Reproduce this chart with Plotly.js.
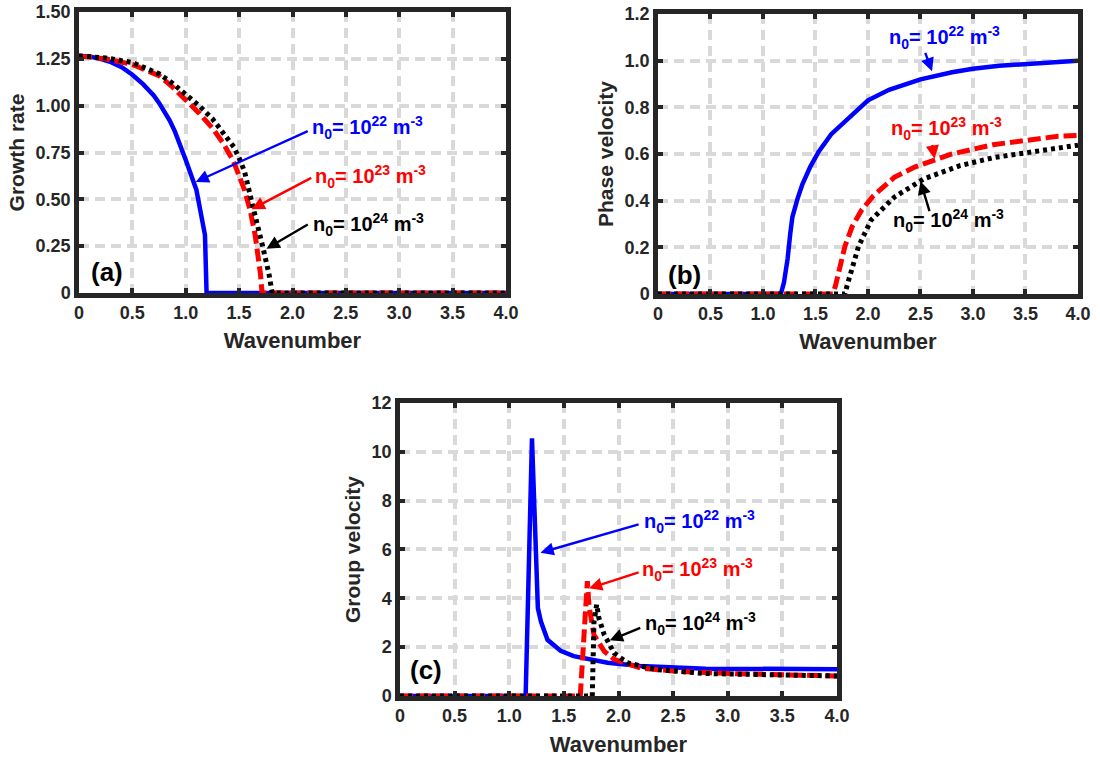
<!DOCTYPE html>
<html>
<head>
<meta charset="utf-8">
<script src="https://cdn.plot.ly/plotly-3.0.1.min.js"></script>
<style>html,body{margin:0;padding:0;background:#fff;}#chart{width:1100px;height:762px;}</style>
</head>
<body>
<div id="chart"></div>
<script>
// ---- Panel (a): growth rate ----
const kGrowth22 = [0, 0.1, 0.2, 0.3, 0.4, 0.5, 0.6, 0.65, 0.7, 0.75, 0.8, 0.85, 0.9, 0.95, 1.0, 1.05, 1.1, 1.15, 1.18, 1.195, 4.0];
const growth22  = [1.265, 1.262, 1.25, 1.232, 1.205, 1.165, 1.115, 1.085, 1.055, 1.015, 0.97, 0.92, 0.86, 0.79, 0.71, 0.63, 0.55, 0.40, 0.31, 0, 0];
const kGrowth23 = [0, 0.25, 0.5, 0.75, 0.875, 1.0, 1.125, 1.25, 1.35, 1.45, 1.5, 1.55, 1.6, 1.65, 1.7, 1.715, 4.0];
const growth23  = [1.265, 1.25, 1.22, 1.16, 1.10, 1.03, 0.96, 0.88, 0.80, 0.70, 0.625, 0.55, 0.45, 0.31, 0.10, 0, 0];
const kGrowth24 = [0, 0.25, 0.5, 0.75, 0.875, 1.0, 1.125, 1.25, 1.35, 1.45, 1.5, 1.55, 1.63, 1.675, 1.72, 1.78, 1.81, 4.0];
const growth24  = [1.265, 1.255, 1.23, 1.17, 1.12, 1.06, 1.00, 0.93, 0.86, 0.78, 0.72, 0.65, 0.46, 0.36, 0.25, 0.10, 0, 0];

// ---- Panel (b): phase velocity ----
const kPhase22 = [0, 1.17, 1.2, 1.234, 1.26, 1.28, 1.33, 1.375, 1.45, 1.53, 1.65, 1.78, 2.0, 2.2, 2.5, 2.8, 3.0, 3.25, 3.5, 3.75, 4.0];
const phase22  = [0, 0, 0.05, 0.15, 0.26, 0.33, 0.41, 0.47, 0.545, 0.61, 0.685, 0.74, 0.83, 0.875, 0.92, 0.95, 0.965, 0.978, 0.986, 0.993, 1.0];
const kPhase23 = [0, 1.665, 1.69, 1.73, 1.78, 1.85, 1.94, 2.05, 2.25, 2.45, 2.625, 2.8, 3.19, 3.5, 3.81, 4.0];
const phase23  = [0, 0, 0.035, 0.12, 0.204, 0.29, 0.36, 0.42, 0.50, 0.545, 0.57, 0.60, 0.64, 0.66, 0.676, 0.68];
const kPhase24 = [0, 1.78, 1.80, 1.85, 1.91, 2.03, 2.25, 2.53, 2.875, 3.2, 3.5, 3.81, 4.0];
const phase24  = [0, 0, 0.035, 0.12, 0.204, 0.317, 0.415, 0.493, 0.55, 0.585, 0.606, 0.627, 0.638];

// ---- Panel (c): group velocity ----
const kGroup22 = [0, 1.15, 1.208, 1.262, 1.29, 1.35, 1.47, 1.59, 1.9, 2.2, 2.8, 4.0];
const group22  = [0, 0, 10.55, 3.6, 3.05, 2.3, 1.85, 1.63, 1.36, 1.23, 1.12, 1.1];
const kGroup23 = [0, 1.65, 1.715, 1.73, 1.775, 1.87, 1.96, 2.2, 2.5, 3.1, 4.0];
const group23  = [0, 0, 4.7, 3.7, 2.5, 1.83, 1.5, 1.15, 1.02, 0.91, 0.82];
const kGroup24 = [0, 1.76, 1.775, 1.80, 1.82, 1.87, 1.96, 2.08, 2.35, 2.8, 4.0];
const group24  = [0, 0, 3.0, 3.75, 3.2, 2.5, 1.76, 1.36, 1.08, 0.92, 0.82];

// ---- Tick labels ----
const xTickVals = [0, 0.5, 1.0, 1.5, 2.0, 2.5, 3.0, 3.5, 4.0];
const xTickText = ['0', '0.5', '1.0', '1.5', '2.0', '2.5', '3.0', '3.5', '4.0'];
const yTickValsA = [0, 0.25, 0.5, 0.75, 1.0, 1.25, 1.5];
const yTickTextA = ['0', '0.25', '0.50', '0.75', '1.00', '1.25', '1.50'];
const yTickValsB = [0, 0.2, 0.4, 0.6, 0.8, 1.0, 1.2];
const yTickTextB = ['0', '0.2', '0.4', '0.6', '0.8', '1.0', '1.2'];
const yTickValsC = [0, 2, 4, 6, 8, 10, 12];
const yTickTextC = ['0', '2', '4', '6', '8', '10', '12'];

const labels = {
  n22: 'n<sub>0</sub>= 10<sup>22</sup> m<sup>-3</sup>',
  n23: 'n<sub>0</sub>= 10<sup>23</sup> m<sup>-3</sup>',
  n24: 'n<sub>0</sub>= 10<sup>24</sup> m<sup>-3</sup>'
};

const FONT = 'Liberation Sans, Arial, Helvetica, sans-serif';
const DARK = '#262626';
const BLUE = '#0000ff', RED = '#ff0000', BLACK = '#000000';

const styleBlue  = {color: BLUE, width: 4.5, dash: 'solid'};
const styleRed   = {color: RED, width: 5, dash: '13px,5px'};
const styleBlack = {color: BLACK, width: 5, dash: '4px,4px'};

function tr(x, y, line, xa, ya) {
  return {x: x, y: y, type: 'scatter', mode: 'lines', line: line, xaxis: xa, yaxis: ya, hoverinfo: 'skip'};
}

const data = [
  tr(kGrowth22, growth22, styleBlue, 'x', 'y'),
  tr(kGrowth23, growth23, styleRed, 'x', 'y'),
  tr(kGrowth24, growth24, styleBlack, 'x', 'y'),
  tr(kPhase22, phase22, styleBlue, 'x2', 'y2'),
  tr(kPhase23, phase23, styleRed, 'x2', 'y2'),
  tr(kPhase24, phase24, styleBlack, 'x2', 'y2'),
  tr(kGroup22, group22, styleBlue, 'x3', 'y3'),
  tr(kGroup23, group23, styleRed, 'x3', 'y3'),
  tr(kGroup24, group24, styleBlack, 'x3', 'y3')
];

const bold = s => '<b>' + s + '</b>';

function axis(extra) {
  return Object.assign({
    ticks: 'inside', ticklen: 5, tickwidth: 3.5, tickcolor: DARK,
    showline: true, linewidth: 4.5, linecolor: DARK, mirror: 'ticks',
    showgrid: true, gridcolor: '#d9d9d9', gridwidth: 3.5, griddash: '10px,6px',
    zeroline: false, ticklabeloverflow: 'allow',
    tickfont: {family: FONT, size: 18, color: DARK},
    tickmode: 'array'
  }, extra);
}
function xTitle(so) { return {text: bold('Wavenumber'), font: {family: FONT, size: 22, color: DARK}, standoff: so}; }
function yTitle(t) { return {text: bold(t), font: {family: FONT, size: 21, color: DARK}, standoff: 7}; }

function txt(x, y, text, color, xr, yr, size, anchor) {
  return {x: x, y: y, xref: xr, yref: yr, text: bold(text), showarrow: false, xanchor: anchor || 'left', yanchor: 'middle',
          font: {family: FONT, size: size || 20, color: color}};
}
function arr(tx, ty, hx, hy, color, xr, yr) {
  return {x: hx, y: hy, ax: tx, ay: ty, xref: xr, yref: yr, axref: xr, ayref: yr, text: '', showarrow: true,
          arrowhead: 2, arrowsize: 1.1, arrowwidth: 2.4, arrowcolor: color, standoff: 0, startstandoff: 0};
}

const annotations = [
  // (a)
  txt(2.16, 0.885, labels.n22, BLUE, 'x', 'y'),
  arr(2.157, 0.868, 1.093, 0.593, BLUE, 'x', 'y'),
  txt(2.19, 0.62, labels.n23, RED, 'x', 'y'),
  arr(2.19, 0.619, 1.617, 0.447, RED, 'x', 'y'),
  txt(2.17, 0.366, labels.n24, BLACK, 'x', 'y'),
  arr(2.157, 0.37, 1.756, 0.236, BLACK, 'x', 'y'),
  txt(0.26, 0.113, '(a)', BLACK, 'x', 'y', 26, 'center'),
  // (b)
  txt(2.184, 1.099, labels.n22, BLUE, 'x2', 'y2'),
  arr(2.54, 1.04, 2.61, 0.955, BLUE, 'x2', 'y2'),
  txt(2.20, 0.711, labels.n23, RED, 'x2', 'y2'),
  arr(2.61, 0.645, 2.634, 0.58, RED, 'x2', 'y2'),
  txt(2.217, 0.314, labels.n24, BLACK, 'x2', 'y2'),
  arr(2.59, 0.349, 2.50, 0.483, BLACK, 'x2', 'y2'),
  txt(0.25, 0.082, '(b)', BLACK, 'x2', 'y2', 26, 'center'),
  // (c)
  txt(2.213, 7.15, labels.n22, BLUE, 'x3', 'y3'),
  arr(2.198, 7.05, 1.286, 5.87, BLUE, 'x3', 'y3'),
  txt(2.198, 5.18, labels.n23, RED, 'x3', 'y3'),
  arr(2.198, 5.08, 1.73, 4.41, RED, 'x3', 'y3'),
  txt(2.228, 2.98, labels.n24, BLACK, 'x3', 'y3'),
  arr(2.213, 2.82, 1.92, 2.28, BLACK, 'x3', 'y3'),
  txt(0.24, 1.06, '(c)', BLACK, 'x3', 'y3', 26, 'center')
];

const layout = {
  width: 1100, height: 762,
  margin: {l: 0, r: 0, t: 0, b: 0},
  paper_bgcolor: '#ffffff', plot_bgcolor: '#ffffff',
  showlegend: false,
  font: {family: FONT, size: 18, color: DARK},
  xaxis:  axis({domain: [0.07182, 0.46], range: [0, 4], tickvals: xTickVals, ticktext: xTickText.map(bold), anchor: 'y', title: xTitle(12)}),
  yaxis:  axis({domain: [0.61549, 0.98425], range: [0, 1.5], tickvals: yTickValsA, ticktext: yTickTextA.map(bold), anchor: 'x', title: yTitle('Growth rate')}),
  xaxis2: axis({domain: [0.59818, 0.98], range: [0, 4], tickvals: xTickVals, ticktext: xTickText.map(bold), anchor: 'y2', title: xTitle(12)}),
  yaxis2: axis({domain: [0.61417, 0.98163], range: [0, 1.2], tickvals: yTickValsB, ticktext: yTickTextB.map(bold), anchor: 'x2', title: yTitle('Phase velocity')}),
  xaxis3: axis({domain: [0.36364, 0.76091], range: [0, 4], tickvals: xTickVals, ticktext: xTickText.map(bold), anchor: 'y3', title: xTitle(13)}),
  yaxis3: axis({domain: [0.08661, 0.47113], range: [0, 12], tickvals: yTickValsC, ticktext: yTickTextC.map(bold), anchor: 'x3', title: yTitle('Group velocity')}),
  annotations: annotations
};

Plotly.newPlot('chart', data, layout, {displayModeBar: false});
</script>
</body>
</html>
